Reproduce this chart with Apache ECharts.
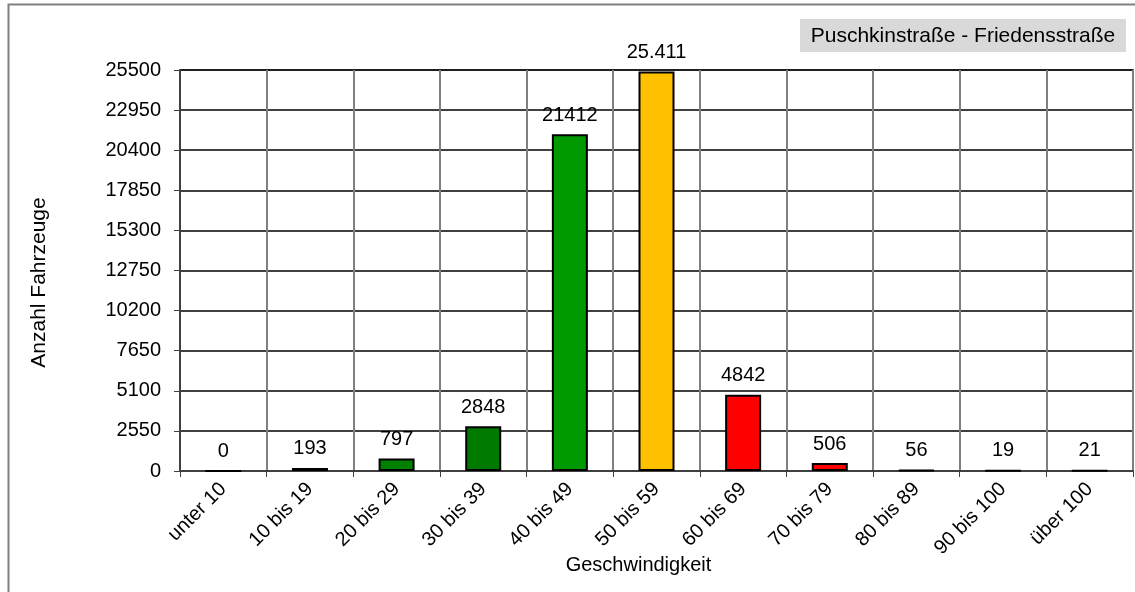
<!DOCTYPE html>
<html><head><meta charset="utf-8">
<script src="https://cdn.jsdelivr.net/npm/echarts@6/dist/echarts.min.js"></script>
<style>html,body{margin:0;padding:0;background:#fff}#c{width:1135px;height:592px}</style>
</head><body><div id="c"></div>
<script>
const categories = ['unter 10','10 bis 19','20 bis 29','30 bis 39','40 bis 49','50 bis 59','60 bis 69','70 bis 79','80 bis 89','90 bis 100','über 100'];
const values = [0,193,797,2848,21412,25411,4842,506,56,19,21];
const valueLabels = ['0','193','797','2848','21412','25.411','4842','506','56','19','21'];
const barColors = ['#008000','#006400','#008000','#007a00','#009900','#FFC000','#FF0000','#FF0000','#000000','#000000','#000000'];
const yTicks = [0,2550,5100,7650,10200,12750,15300,17850,20400,22950,25500];
const titleText = 'Puschkinstraße - Friedensstraße';

const font = 'Liberation Sans, Arial, sans-serif';
const chart = echarts.init(document.getElementById('c'), null, {renderer:'canvas'});
chart.setOption({
  animation:false,
  backgroundColor:'#fff',
  grid:{left:180,right:2,top:70,bottom:121,show:true,borderColor:'#808080',borderWidth:2},
  graphic:[
    {type:'rect',shape:{x:8.5,y:4.5,width:1140,height:600},style:{fill:'none',stroke:'#808080',lineWidth:2},silent:true,z:-1},
    {type:'rect',shape:{x:800,y:19,width:326,height:33},style:{fill:'#d9d9d9'},z:10},
    {type:'text',x:963,y:36,style:{text:titleText,font:'21px '+font,fill:'#000',textAlign:'center',textVerticalAlign:'middle'},z:11}
  ],
  xAxis:{
    type:'category',data:categories,
    name:'Geschwindigkeit',nameLocation:'middle',nameGap:84,nameMoveOverlap:false,
    nameTextStyle:{fontFamily:font,fontSize:20,color:'#000',padding:[0,36,0,0]},
    axisLine:{lineStyle:{color:'#404040',width:2}},
    axisTick:{show:true,length:6,lineStyle:{color:'#404040',width:1}},
    axisLabel:{rotate:45,fontFamily:font,fontSize:20,color:'#000',margin:15,interval:0},
    splitLine:{show:true,lineStyle:{color:'#808080',width:2}}
  },
  yAxis:{
    type:'value',min:0,max:25500,interval:2550,
    name:'Anzahl Fahrzeuge',nameLocation:'middle',nameGap:130,nameMoveOverlap:false,
    nameTextStyle:{fontFamily:font,fontSize:21,color:'#000',padding:[0,24,0,0]},
    axisLine:{show:true,lineStyle:{color:'#404040',width:2}},
    axisTick:{show:true,length:6,lineStyle:{color:'#404040',width:1}},
    axisLabel:{fontFamily:font,fontSize:20,color:'#000',margin:19,
      formatter:function(v){return yTicks.indexOf(v)>=0?String(v):'';}},
    splitLine:{show:true,lineStyle:{color:'#000',width:1.5}}
  },
  series:[{
    type:'bar',barWidth:36,
    data:values.map((v,i)=>({value:v,itemStyle:{color:barColors[i]}})),
    itemStyle:{borderColor:'#000',borderWidth:2},
    label:{show:true,position:'top',distance:9,fontFamily:font,fontSize:20,color:'#000',
      formatter:function(p){return valueLabels[p.dataIndex];}}
  }]
});
</script></body></html>
